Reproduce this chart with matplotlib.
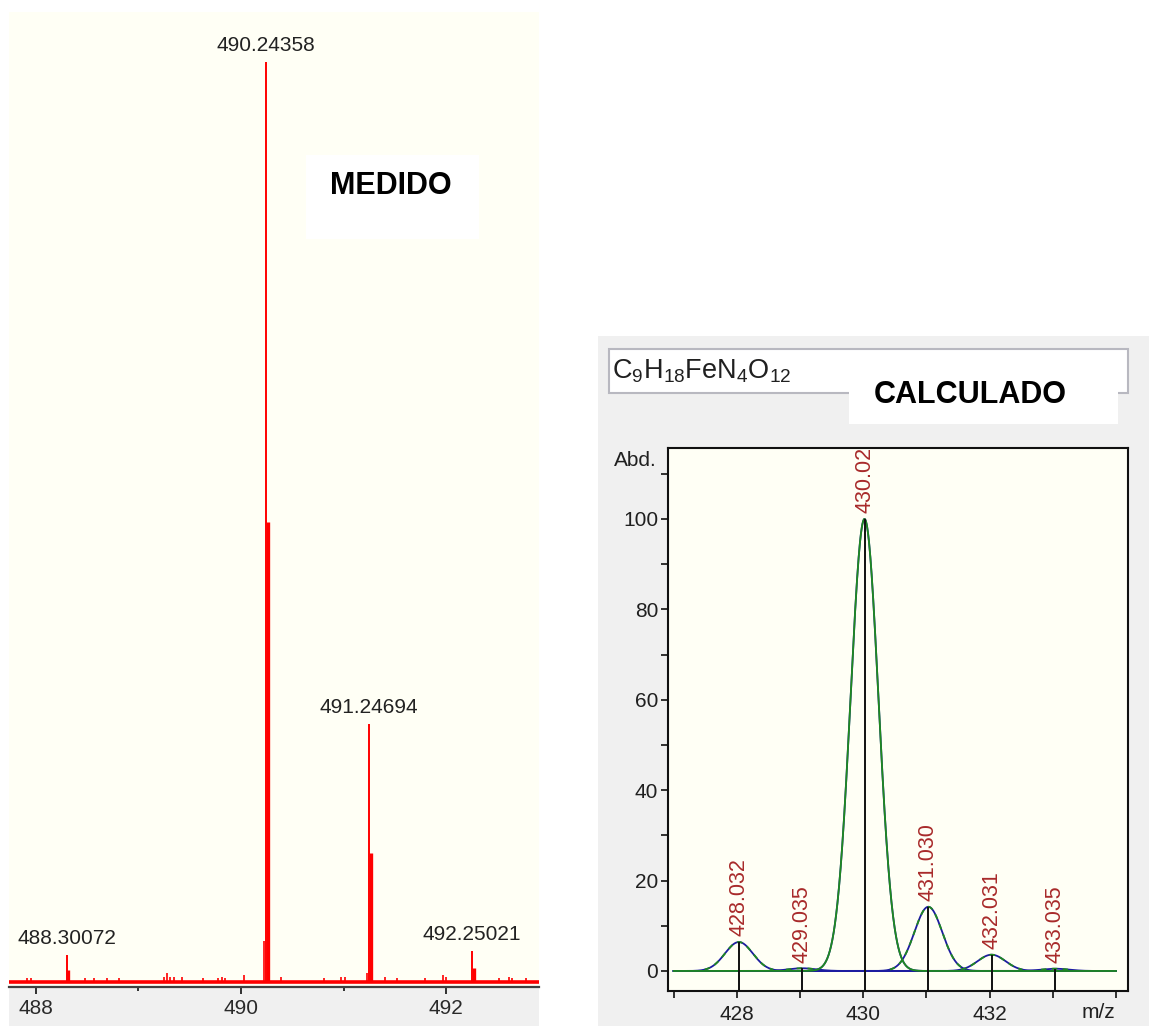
import numpy as np
import matplotlib
matplotlib.use("Agg")
import matplotlib.pyplot as plt
from matplotlib.patches import Rectangle

plt.rcParams['font.family'] = ['Liberation Sans', 'DejaVu Sans']
plt.rcParams['mathtext.fontset'] = 'custom'
plt.rcParams['mathtext.rm'] = 'Liberation Sans'
plt.rcParams['mathtext.it'] = 'Liberation Sans'

W, H = 1149, 1026

# measured spectrum (left): labelled peaks, their shoulders and small noise spikes
meas_mz = [488.30072, 490.24358, 491.24694, 492.25021]
meas_int = [2.9, 100.0, 28.0, 3.4]
meas_labels = ['488.30072', '490.24358', '491.24694', '492.25021']
shoulder_mz = [488.317, 490.258, 491.262, 492.266]
shoulder_int = [1.3, 50.0, 14.0, 1.5]
noise_mz = [487.91, 487.95, 488.48, 488.57, 488.69, 488.81, 489.25, 489.28, 489.31,
            489.35, 489.42, 489.63, 489.77, 489.81, 489.84, 490.03, 490.222, 490.39,
            490.81, 490.97, 491.01, 491.225, 491.40, 491.52, 491.79, 491.97, 492.0,
            492.51, 492.61, 492.64, 492.78]
noise_int = [0.4, 0.4, 0.4, 0.4, 0.4, 0.4, 0.6, 1.0, 0.5,
             0.5, 0.5, 0.4, 0.4, 0.5, 0.4, 0.8, 4.5, 0.5,
             0.4, 0.5, 0.5, 1.0, 0.5, 0.4, 0.4, 0.8, 0.6,
             0.4, 0.5, 0.4, 0.4]

# calculated isotope pattern (right)
calc_mz = [428.032, 429.035, 430.020, 431.030, 432.031, 433.035]
calc_int = [6.4, 0.6, 100.0, 14.2, 3.6, 0.5]
calc_labels = ['428.032', '429.035', '430.020', '431.030', '432.031', '433.035']
formula = r'C$_9$H$_{18}$FeN$_4$O$_{12}$'


def box(l, t, r, b):
    return [l / W, 1 - b / H, (r - l) / W, (b - t) / H]


def rect(l, t, r, b, **kw):
    p = Rectangle((l / W, 1 - b / H), (r - l) / W, (b - t) / H,
                  transform=fig.transFigure, **kw)
    fig.add_artist(p)
    return p


fig = plt.figure(figsize=(W / 100, H / 100), dpi=100)
fig.patch.set_facecolor('white')

cream = '#fffff5'
panel = '#f0f0f0'

# grey backgrounds behind the axes
rect(9, 987, 539, H, facecolor=panel, edgecolor='none', zorder=-2)
rect(598, 336, W, H, facecolor=panel, edgecolor='none', zorder=-2)

# ---- left: measured ----
ax1 = fig.add_axes(box(9, 12, 539, 987))
ax1.set_facecolor(cream)
ax1.set_xlim(487.738, 492.903)
ax1.set_ylim(-0.54, 105.4)
for s in ['top', 'left', 'right']:
    ax1.spines[s].set_visible(False)
ax1.spines['bottom'].set_color('#404040')
ax1.spines['bottom'].set_linewidth(1.6)
ax1.set_yticks([])
ax1.set_xticks([488, 490, 492])
ax1.set_xticks([489, 491], minor=True)
ax1.tick_params(axis='x', which='major', length=5, width=1.4, color='#303030',
                labelsize=15, labelcolor='#2a2a2a', pad=4)
ax1.tick_params(axis='x', which='minor', length=3, width=1.4, color='#303030')

ax1.axhline(0, color='#ff0000', lw=2.6, zorder=2)
ax1.vlines(noise_mz, 0, noise_int, color='#ff0000', lw=1.2, zorder=2)
ax1.vlines(shoulder_mz, 0, shoulder_int, color='#ff0000', lw=2.4, zorder=2)
ax1.vlines(meas_mz, 0, meas_int, color='#ff0000', lw=1.4, zorder=3)
for mz, val, lab in zip(meas_mz, meas_int, meas_labels):
    ax1.annotate(lab, (mz, val), xytext=(0, 5), textcoords='offset points',
                 ha='center', va='bottom', fontsize=15, color='#222222')

rect(306, 155, 479, 239, facecolor='white', edgecolor='none', zorder=5)
fig.text(391 / W, 1 - 186 / H, 'MEDIDO', ha='center', va='center', fontsize=22,
         fontweight='bold', zorder=6)

# ---- right: calculated ----
rect(609, 349, 1128, 393, facecolor='white', edgecolor='#b8b8c0', lw=1.5, zorder=1)
fig.text(612 / W, 1 - 371 / H, formula, ha='left', va='center', fontsize=19.5,
         color='#202020', zorder=2)
rect(849, 372, 1118, 424, facecolor='white', edgecolor='none', zorder=3)
fig.text(970 / W, 1 - 395 / H, 'CALCULADO', ha='center', va='center', fontsize=22,
         fontweight='bold', zorder=4)

ax2 = fig.add_axes(box(668, 448, 1128, 991))
ax2.set_facecolor(cream)
ax2.set_xlim(426.91, 434.19)
ax2.set_ylim(-4.43, 115.7)
for s in ax2.spines.values():
    s.set_linewidth(1.5)
    s.set_color('#101010')
ax2.set_yticks([0, 20, 40, 60, 80, 100])
ax2.set_yticks([10, 30, 50, 70, 90, 110], minor=True)
xt = list(range(427, 435))
ax2.set_xticks(xt)
ax2.set_xticklabels([str(v) if v % 2 == 0 and v < 434 else '' for v in xt])
ax2.tick_params(axis='both', which='both', direction='out', length=5, width=1.2,
                color='#101010', labelsize=15, labelcolor='#202020')
ax2.tick_params(axis='y', pad=2)
ax2.tick_params(axis='x', pad=5)
fig.text(657 / W, 1 - 460 / H, 'Abd.', ha='right', va='center', fontsize=15, color='#202020')
fig.text(1098 / W, 1 - 1012 / H, 'm/z', ha='center', va='center', fontsize=15, color='#202020')

# simulated profile: one gaussian per isotope peak
sigma = 0.22
grid = np.linspace(427.0, 434.0, 1400)
for k, (mz, val) in enumerate(zip(calc_mz, calc_int)):
    prof = val * np.exp(-0.5 * ((grid - mz) / sigma) ** 2)
    ax2.plot(grid, prof, color='#1c1ca0', lw=1.3, zorder=2)
    if k == 2:
        ax2.plot(grid, prof, color='#1f8a1f', lw=1.3, zorder=3)
    else:
        ax2.plot(grid[prof > 0.3], prof[prof > 0.3], color='#1f8a1f', lw=1.3,
                 ls=(0, (3, 3)), zorder=3)

ax2.vlines(calc_mz, -4.43, calc_int, color='#101010', lw=1.4, zorder=4)
for mz, val, lab in zip(calc_mz, calc_int, calc_labels):
    ax2.annotate(lab, (mz, val), xytext=(0, 4), textcoords='offset points',
                 rotation=90, ha='center', va='bottom', fontsize=15.5,
                 color='#a82a2a', clip_on=True, annotation_clip=False, zorder=5)

fig.savefig('out.png', dpi=100)
